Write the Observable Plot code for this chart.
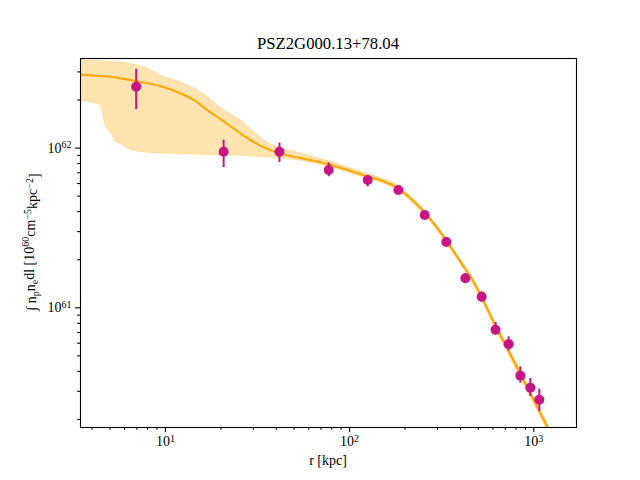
<!DOCTYPE html>
<html>
<head>
<meta charset="utf-8">
<script src="https://cdn.jsdelivr.net/npm/d3@7"></script>
<script src="https://cdn.jsdelivr.net/npm/@observablehq/plot@0.6"></script>
<style>
  html, body { margin: 0; padding: 0; background: #fff; }
  #chart { width: 640px; height: 480px; }
</style>
</head>
<body>
<div id="chart"></div>
<script>
// ---- Data ----
const title = "PSZ2G000.13+78.04";

// Measured points (r [kpc], value, lower, upper)
const pointR  = [6.94, 20.7, 41.6, 77.0, 125.4, 184, 255.6, 335, 425, 521, 620, 730, 845, 957, 1071];
const pointV  = [2.42e62, 9.48e61, 9.48e61, 7.29e61, 6.31e61, 5.46e61, 3.81e61, 2.585e61, 1.531e61, 1.172e61, 7.29e60, 5.92e60, 3.76e60, 3.16e60, 2.66e60];
const pointLo = [1.74e62, 7.56e61, 8.13e61, 6.62e61, 5.73e61, 5.17e61, 3.70e61, 2.50e61, 1.42e61, 1.09e61, 6.71e60, 5.37e60, 3.37e60, 2.79e60, 2.24e60];
const pointHi = [3.12e62, 1.122e62, 1.075e62, 8.09e61, 6.71e61, 5.81e61, 3.92e61, 2.67e61, 1.64e61, 1.26e61, 8.09e60, 6.58e60, 4.27e60, 3.61e60, 3.10e60];

// Model curve
const modelR = [3.0, 3.46, 5.12, 6.91, 9.56, 11.78, 14.51, 17.13, 19.91, 25.56, 32.8, 41.6, 54.1, 69.4, 94.9, 124.9, 156.4, 184, 219.1, 254.6, 292.2, 335.1, 399.1, 469.6, 518.9, 618.1, 727.2, 845.1, 957.2, 1188, 1392];
const modelV = [2.90e62, 2.88e62, 2.79e62, 2.63e62, 2.43e62, 2.23e62, 1.975e62, 1.71e62, 1.52e62, 1.234e62, 1.034e62, 9.30e61, 8.66e61, 8.15e61, 7.37e61, 6.66e61, 6.13e61, 5.60e61, 4.72e61, 3.97e61, 3.27e61, 2.634e61, 1.947e61, 1.46e61, 1.177e61, 7.75e60, 5.41e60, 3.86e60, 2.91e60, 1.786e60, 1.247e60];

// Uncertainty band
const bandR  = [3.0, 3.46, 3.99, 4.34, 4.52, 4.71, 5.12, 5.45, 5.80, 6.31, 7.77, 9.56, 11.78, 14.51, 17.13, 19.91, 25.56, 35.7, 54.1, 81.7, 94.9, 124.9, 156.4, 184, 219.1, 254.6, 292.2, 335.1, 399.1, 469.6, 518.9, 618.1, 727.2, 845.1, 957.2, 1188, 1392];
const bandHi = [3.60e62, 3.56e62, 3.53e62, 3.51e62, 3.50e62, 3.49e62, 3.46e62, 3.45e62, 3.43e62, 3.38e62, 3.19e62, 2.83e62, 2.60e62, 2.34e62, 2.07e62, 1.79e62, 1.496e62, 1.084e62, 9.25e61, 8.1e61, 7.64e61, 6.91e61, 6.35e61, 5.80e61, 4.89e61, 4.12e61, 3.39e61, 2.73e61, 2.02e61, 1.526e61, 1.23e61, 8.10e60, 5.73e60, 4.09e60, 3.08e60, 1.89e60, 1.32e60];
const bandLo = [2.00e62, 1.975e62, 1.93e62, 1.884e62, 1.76e62, 1.413e62, 1.223e62, 1.084e62, 1.059e62, 9.86e61, 9.39e61, 9.25e61, 9.17e61, 9.12e61, 9.08e61, 9.03e61, 8.95e61, 8.75e61, 8.33e61, 7.5e61, 7.11e61, 6.42e61, 5.91e61, 5.40e61, 4.55e61, 3.83e61, 3.15e61, 2.54e61, 1.88e61, 1.397e61, 1.126e61, 7.42e60, 5.10e60, 3.64e60, 2.75e60, 1.685e60, 1.176e60];

// Axis ticks
const xMajor = [10, 100, 1000];
const xMinor = [4, 5, 6, 7, 8, 9, 20, 30, 40, 50, 60, 70, 80, 90, 200, 300, 400, 500, 600, 700, 800, 900];
const yMajor = [1e61, 1e62];
const yMinor = [2e60, 3e60, 4e60, 5e60, 6e60, 7e60, 8e60, 9e60, 2e61, 3e61, 4e61, 5e61, 6e61, 7e61, 8e61, 9e61, 2e62, 3e62];

// ---- Build tables ----
const points = pointR.map((r, i) => ({r, v: pointV[i], lo: pointLo[i], hi: pointHi[i]}));
const model = modelR.map((r, i) => ({r, v: modelV[i]}));
const band = bandR.map((r, i) => ({r, lo: bandLo[i], hi: bandHi[i]}));

const ORANGE = "#FFA500";
const PURPLE = "#C71585";
const FONT = "'Liberation Serif', 'DejaVu Serif', serif";

const supFmt = d => "10^" + Math.round(Math.log10(d));

const chart = Plot.plot({
  width: 640,
  height: 480,
  marginLeft: 80,
  marginRight: 64,
  marginTop: 58,
  marginBottom: 53,
  style: {fontFamily: FONT, fontSize: "14px", background: "#fff", color: "#000"},
  x: {type: "log", domain: [3.46, 1705], label: null},
  y: {type: "log", domain: [1.78e60, 3.64e62], label: null},
  marks: [
    Plot.areaY(band, {x: "r", y1: "lo", y2: "hi", fill: ORANGE, fillOpacity: 0.3, stroke: ORANGE, strokeOpacity: 0.25, strokeWidth: 1, curve: "monotone-x", clip: true}),
    Plot.line(model, {x: "r", y: "v", stroke: ORANGE, strokeWidth: 2, curve: "monotone-x", clip: true}),
    Plot.ruleX(points, {x: "r", y1: "lo", y2: "hi", stroke: PURPLE, strokeWidth: 2}),
    Plot.dot(points, {x: "r", y: "v", r: 5, fill: PURPLE, stroke: "none"}),
    Plot.axisX({ticks: xMinor, tickSize: 2.8, tickFormat: () => "", strokeWidth: 1.1, label: null}),
    Plot.axisX({ticks: xMajor, tickSize: 4.9, tickPadding: 4, tickFormat: supFmt, fontSize: 14, strokeWidth: 1.1, label: null}),
    Plot.axisY({ticks: yMinor, tickSize: 2.8, tickFormat: () => "", strokeWidth: 1.1, label: null}),
    Plot.axisY({ticks: yMajor, tickSize: 4.9, tickPadding: 4, tickFormat: supFmt, fontSize: 14, strokeWidth: 1.1, label: null}),
    Plot.frame({stroke: "#000", strokeWidth: 1.1})
  ]
});

document.getElementById("chart").appendChild(chart);

// Turn "10^n" labels into superscripted text
const svg = d3.select(chart);
svg.selectAll("text").each(function() {
  const t = this.textContent;
  const m = /^10\^(-?\d+)$/.exec(t);
  if (!m) return;
  const sel = d3.select(this);
  sel.text(null);
  sel.append("tspan").text("10");
  sel.append("tspan").attr("dy", "-0.45em").attr("font-size", "10px").text(m[1]);
});

// Title
svg.append("text")
  .attr("x", 328).attr("y", 49)
  .attr("text-anchor", "middle")
  .attr("font-family", FONT).attr("font-size", 16.7)
  .attr("fill", "#000")
  .text(title);

// X label
svg.append("text")
  .attr("x", 328).attr("y", 465)
  .attr("text-anchor", "middle")
  .attr("font-family", FONT).attr("font-size", 14)
  .attr("fill", "#000")
  .text("r [kpc]");

// Y label with sub/superscripts
const yl = svg.append("text")
  .attr("transform", "translate(36,242) rotate(-90)")
  .attr("text-anchor", "middle")
  .attr("font-family", FONT).attr("font-size", 14)
  .attr("fill", "#000");
yl.append("tspan").text("\u222B n");
yl.append("tspan").attr("dy", "0.3em").attr("font-size", "10px").text("p");
yl.append("tspan").attr("dy", "-0.3em").text("n");
yl.append("tspan").attr("dy", "0.3em").attr("font-size", "10px").text("e");
yl.append("tspan").attr("dy", "-0.3em").text("dl [10");
yl.append("tspan").attr("dy", "-0.45em").attr("font-size", "10px").text("60");
yl.append("tspan").attr("dy", "0.45em").text("cm");
yl.append("tspan").attr("dy", "-0.45em").attr("font-size", "10px").text("\u22125");
yl.append("tspan").attr("dy", "0.45em").text("kpc");
yl.append("tspan").attr("dy", "-0.45em").attr("font-size", "10px").text("\u22122");
yl.append("tspan").attr("dy", "0.45em").text("]");
</script>
</body>
</html>
